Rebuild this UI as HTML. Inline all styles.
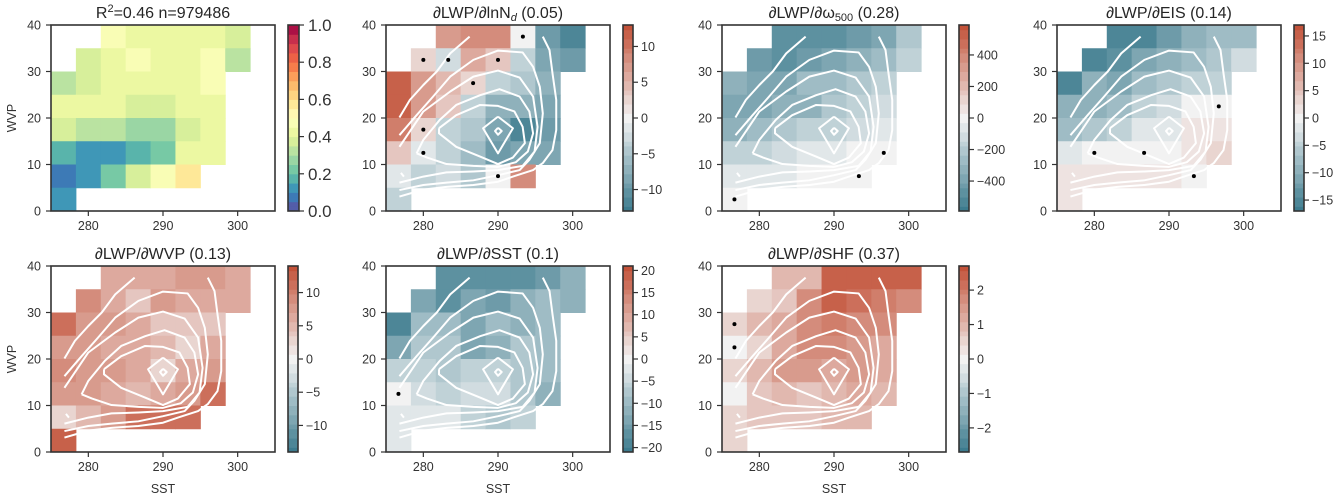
<!DOCTYPE html>
<html><head><meta charset="utf-8"><style>
body{margin:0;background:#fff}
svg{display:block;font-family:"Liberation Sans",sans-serif}
</style></head><body>
<svg id="fig" width="1343" height="499" viewBox="0 0 1343 499" xmlns="http://www.w3.org/2000/svg"></svg>
<script>
const N=null;
const xTicks=[280,290,300];
const yTicks=[0,10,20,30,40];
const panel1Values=[
[N,N,.45,.42,.42,.42,.42,.35,N],
[N,.37,.42,.46,.42,.42,.47,.3,N],
[.3,.38,.4,.44,.4,.43,.47,N,N],
[.43,.43,.43,.38,.38,.43,.43,N,N],
[.35,.3,.3,.27,.27,.38,.43,N,N],
[.17,.12,.12,.17,.2,.4,.43,N,N],
[.07,.13,.2,.36,.48,.55,N,N,N],
[.14,N,N,N,N,N,N,N,N]];
const lnNdValues=[
[N,N,7,8,8,0,-9,-12,N],
[N,2,-2,6,4,-4,-8,-10,N],
[12,7,5,2,-4,-5,-7,N,N],
[12,7,3,-3,-7,-7,-8,N,N],
[10,2,-3,-5,-8,-12,-9,N,N],
[4,-1,-3,-6,-10,-8,-8,N,N],
[-1,-4,-2,-5,0,8,N,N,N],
[-4,N,N,N,N,N,N,N,N]];
const omegaValues=[
[N,N,-480,-500,-500,-420,-380,-240,N],
[N,-420,-500,-440,-380,-330,-250,-150,N],
[-320,-400,-360,-280,-260,-220,-160,N,N],
[-380,-380,-340,-300,-240,-170,-120,N,N],
[-300,-290,-230,-170,-140,-100,-60,N,N],
[-170,-150,-90,-50,-40,-20,0,N,N],
[-60,-50,-50,0,0,0,N,N,N],
[0,N,N,N,N,N,N,N,N]];
const eisValues=[
[N,N,-15,-15,-13,-10,-8,-7,N],
[N,-15,-14,-11,-10,-8,-6,-3,N],
[-16,-10,-11,-8,-6,-5,-4,N,N],
[-10,-9,-7,-4,-3,0,0,N,N],
[-8,-6,-4,-2,-1,2,2,N,N],
[-1,0,0,0,0,1,3,N,N],
[2,2,2,2,2,0,N,N,N],
[2,N,N,N,N,N,N,N,N]];
const wvpValues=[
[N,N,6,6,6,8,7,6,N],
[N,9,6,4,7,6,6,6,N],
[12,7,8,6,4,4,4,N,N],
[7,7,6,6,5,3,6,N,N],
[9,8,7,6,2,6,7,N,N],
[7,8,6,5,6,7,11,N,N],
[3,5,8,12,12,12,N,N,N],
[13,N,N,N,N,N,N,N,N]];
const sstValues=[
[N,N,-18,-18,-18,-18,-15,-12,N],
[N,-14,-17,-13,-15,-12,-9,-12,N],
[-19,-9,-10,-14,-9,-11,-9,N,N],
[-13,-7,-7,-14,-11,-7,-9,N,N],
[-5,-5,-8,-5,-5,-7,-9,N,N],
[0,-3,-5,-4,-4,-7,-12,N,N],
[-2,-2,-2,-6,-8,-5,N,N,N],
[-2,N,N,N,N,N,N,N,N]];
const shfValues=[
[N,N,1.0,1.1,2.4,2.4,2.4,2.4,N],
[N,0.5,0.7,1.6,2.4,2.1,1.9,1.7,N],
[0.4,1.0,1.3,1.6,2.0,1.6,1.6,N,N],
[0.1,0.6,1.2,1.7,1.8,1.4,1.2,N,N],
[0.4,0.9,1.4,1.4,1.3,1.5,1.3,N,N],
[0.1,0.8,1.0,0.7,1.0,1.2,1.0,N,N],
[0.6,0.7,0.7,0.7,0.9,0.9,N,N,N],
[0.4,N,N,N,N,N,N,N,N]];
const lnNdDots=[[5,7],[1,6],[2,6],[4,6],[3,5],[1,3],[1,2],[4,1]];
const omegaDots=[[6,2],[5,1],[0,0]];
const eisDots=[[1,2],[3,2],[5,1],[6,4]];
const wvpDots=[];
const sstDots=[[0,2]];
const shfDots=[[0,5],[0,4]];
const contours=[
[[276.8,20.1],[278.2,23.9],[280,27.1],[281.8,30],[283.6,33.9],[286.2,37.5]],
[[296,37.5],[296.9,34.6],[297.3,29.6],[297.8,23.9],[297.8,17.4],[297.3,13.1],[296,10.3],[294.7,8.8],[292,7.4],[290,6.3],[286.7,5.6],[283.1,5.2],[280,4.6],[276.8,3.1]],
[[276.8,16.3],[279.1,20.6],[281.3,24.6],[283.6,28.9],[286.7,32.5],[290,34.5],[293.3,34.1],[294.7,31],[295.6,26.7],[296,21],[295.6,14.6],[294.2,11],[292.9,8.8],[290,7.7],[286.7,6.6],[283.1,6.1],[280,5.6],[276.8,4.5]],
[[276.8,13.8],[280,21.4],[283.6,25.7],[286.7,28.9],[290,30.2],[292.9,28.7],[294.7,24.6],[295.3,18.1],[294.9,12.8],[293.3,9.7],[290,8.8],[286.7,8.5],[283.1,8.3],[280,7.4],[276.8,6.1]],
[[279.1,12.4],[280,15.3],[282.2,19.6],[284.4,22.8],[287.6,24.9],[290.2,26.2],[292.9,24.6],[294.2,21.4],[294.7,16.7],[294,12.8],[292.4,10.5],[290,9.5],[286.7,9.7],[283.1,10.1],[280.5,11.5],[279.1,12.4]],
[[282.1,17.8],[284.4,20.6],[287.6,22.8],[290,22.6],[292.2,21.4],[293.3,18.1],[293.6,14.6],[292,11.5],[290,10.1],[287.6,11.7],[284.4,13.8],[282.1,16.7],[282.1,17.8]],
[[290,20.3],[292,17.8],[290,12.4],[288,17.8],[290,20.3]],
[[290,17.9],[290.5,17.2],[290,16.4],[289.6,17.2],[290,17.9]],
[[277,8.2],[277.4,7.4]]];

const panels=[
{name:'r-squared',title:'R<sup>2</sup>=0.46 n=979486',vals:panel1Values,dots:[],cmap:'spectral',vmin:0,vmax:1,ticks:[0,0.2,0.4,0.6,0.8,1.0],dec:1,big:true,col:0,row:0,cont:false},
{name:'dlwp-dlnnd',title:'∂LWP/∂lnN<d>d</d> (0.05)',vals:lnNdValues,dots:lnNdDots,vmax:13,ticks:[-10,-5,0,5,10],col:1,row:0,cont:true},
{name:'dlwp-domega500',title:'∂LWP/∂ω<s>500</s> (0.28)',vals:omegaValues,dots:omegaDots,vmax:590,ticks:[-400,-200,0,200,400],col:2,row:0,cont:true},
{name:'dlwp-deis',title:'∂LWP/∂EIS (0.14)',vals:eisValues,dots:eisDots,vmax:17,ticks:[-15,-10,-5,0,5,10,15],col:3,row:0,cont:true},
{name:'dlwp-dwvp',title:'∂LWP/∂WVP (0.13)',vals:wvpValues,dots:wvpDots,vmax:14,ticks:[-10,-5,0,5,10],col:0,row:1,cont:true},
{name:'dlwp-dsst',title:'∂LWP/∂SST (0.1)',vals:sstValues,dots:sstDots,vmax:21,ticks:[-20,-15,-10,-5,0,5,10,15,20],col:1,row:1,cont:true},
{name:'dlwp-dshf',title:'∂LWP/∂SHF (0.37)',vals:shfValues,dots:shfDots,vmax:2.7,ticks:[-2,-1,0,1,2],col:2,row:1,cont:true}];

const svg=document.getElementById('fig');
const NS='http://www.w3.org/2000/svg';
function mk(tag,attrs,parent){const e=document.createElementNS(NS,tag);for(const k in attrs)e.setAttribute(k,attrs[k]);(parent||svg).appendChild(e);return e;}
function lerp(a,b,t){return a.map((v,i)=>Math.round(v+(b[i]-v)*t));}
function rgb(c){return 'rgb('+c.join(',')+')';}
const spec=[[94,79,162],[50,136,189],[102,194,165],[171,221,164],[230,245,152],[255,255,191],[254,224,139],[253,174,97],[244,109,67],[213,62,79],[158,1,66]];
function spectral(t){t=Math.max(0,Math.min(1,t));t=Math.min(0.9999,(Math.floor(t*20)+0.5)/20);const p=t*10,i=Math.floor(p);return rgb(lerp(spec[i],spec[i+1],p-i));}
const NEG=[60,123,142],MID=[242,242,242],POS=[195,82,57];
function diverg(v,vmax){let t=v/vmax;t=Math.max(-1,Math.min(1,t));const L=11;let q=Math.sign(t)*Math.min(L,Math.floor(Math.abs(t)*L+0.5))/L;if(Math.abs(t)<0.5/L)q=0;return q<0?rgb(lerp(MID,NEG,-q)):rgb(lerp(MID,POS,q));}
function fmt(v,dec){const s=dec?v.toFixed(dec):String(v);return s.replace('-','−');}

const colX=[51,386,722,1057],rowY=[25,266],W=224,H=186;
panels.forEach(p=>{
  const L=colX[p.col],T=rowY[p.row];
  const g=mk('g',{});
  
  
  const sx=x=>L+(x-275)/30*W, sy=y=>T+H-(y/40)*H;
  const col=v=>p.cmap==='spectral'?spectral((v-p.vmin)/(p.vmax-p.vmin)):diverg(v,p.vmax);
  // cells
  p.vals.forEach((rowArr,ri)=>{const r=7-ri;rowArr.forEach((v,c)=>{if(v===null)return;
    const x0=sx(275+c*30/9),x1=sx(275+(c+1)*30/9),y0=sy((r+1)*5),y1=sy(r*5);
    const rc=mk('rect',{x:x0,y:y0,width:x1-x0+0.5,height:y1-y0+0.5,fill:col(v)},g);
    
    
  });});
  if(p.cont){contours.forEach(cn=>{const pl=mk('polyline',{points:cn.map(q=>sx(q[0])+','+sy(q[1])).join(' '),fill:'none',stroke:'#fff','stroke-width':2,'stroke-linejoin':'round'},g);
    
    });}
  p.dots.forEach(d=>{const ci=mk('circle',{cx:sx(275+(d[0]+0.5)*30/9),cy:sy((d[1]+0.5)*5),r:2,fill:'#000'},g);
    
    });
  const fr=mk('rect',{x:L,y:T,width:W,height:H,fill:'none',stroke:'#333','stroke-width':1.6},g);
  
  
  xTicks.forEach(t=>{const x=sx(t);mk('line',{x1:x,x2:x,y1:T+H,y2:T+H+5,stroke:'#333','stroke-width':1.2},g);
    const tx=mk('text',{x:x,y:T+H+19,'text-anchor':'middle','font-size':12.5,fill:'#333'},g);tx.textContent=t;
    
    });
  yTicks.forEach(t=>{const y=sy(t);mk('line',{x1:L-5,x2:L,y1:y,y2:y,stroke:'#333','stroke-width':1.2},g);
    const tx=mk('text',{x:L-10,y:y+4.5,'text-anchor':'end','font-size':12.5,fill:'#333'},g);tx.textContent=t;
    
    });
  // title
  const tt=mk('text',{x:L+W/2,y:T-7,'text-anchor':'middle','font-size':16,fill:'#262626'},g);
  
  
  const m=p.title;
  if(m.includes('<sup>')){const a=m.split('<sup>');const b=a[1].split('</sup>');tt.appendChild(document.createTextNode(a[0]));const s=mk('tspan',{dy:-6,'font-size':11},tt);s.textContent=b[0];const r=mk('tspan',{dy:6},tt);r.textContent=b[1];}
  else if(m.includes('<d>')){const a=m.split('<d>');const b=a[1].split('</d>');tt.appendChild(document.createTextNode(a[0]));const s=mk('tspan',{dy:3,'font-size':11,'font-style':'italic'},tt);s.textContent=b[0];const r=mk('tspan',{dy:-3},tt);r.textContent=b[1];}
  else if(m.includes('<s>')){const a=m.split('<s>');const b=a[1].split('</s>');tt.appendChild(document.createTextNode(a[0]));const s=mk('tspan',{dy:3,'font-size':11},tt);s.textContent=b[0];const r=mk('tspan',{dy:-3},tt);r.textContent=b[1];}
  else tt.textContent=m;
  // colorbar
  const cbx=L+237,cbw=p.big?11:10;
  const cb=mk('g',{},g);
  
  
  const vmin=p.cmap==='spectral'?p.vmin:-p.vmax,vmax=p.vmax,n=40;
  for(let i=0;i<n;i++){const v=vmin+(i+0.5)/n*(vmax-vmin);mk('rect',{x:cbx,y:T+H-(i+1)/n*H,width:cbw,height:H/n+0.5,fill:col(v)},cb);}
  mk('rect',{x:cbx,y:T,width:cbw,height:H,fill:'none',stroke:'#333','stroke-width':1.6},cb);
  p.ticks.forEach(t=>{const y=T+H-(t-vmin)/(vmax-vmin)*H;mk('line',{x1:cbx+cbw,x2:cbx+cbw+5,y1:y,y2:y,stroke:'#333','stroke-width':1.2},cb);
    const tx=mk('text',{x:cbx+cbw+(p.big?9:8),y:y+(p.big?6:4.5),'font-size':p.big?17:12.5,fill:'#333'},cb);tx.textContent=fmt(t,p.dec);
    
    });
  if(p.col===0){const yl=mk('text',{x:0,y:0,transform:'translate('+(L-35)+','+(T+H/2)+') rotate(-90)','text-anchor':'middle','font-size':12.5,fill:'#333'},g);yl.textContent='WVP';
    
    }
  if(p.row===1){const xl=mk('text',{x:L+W/2,y:T+H+41,'text-anchor':'middle','font-size':12.5,fill:'#333'},g);xl.textContent='SST';
    
    }
});
</script>
</body></html>
